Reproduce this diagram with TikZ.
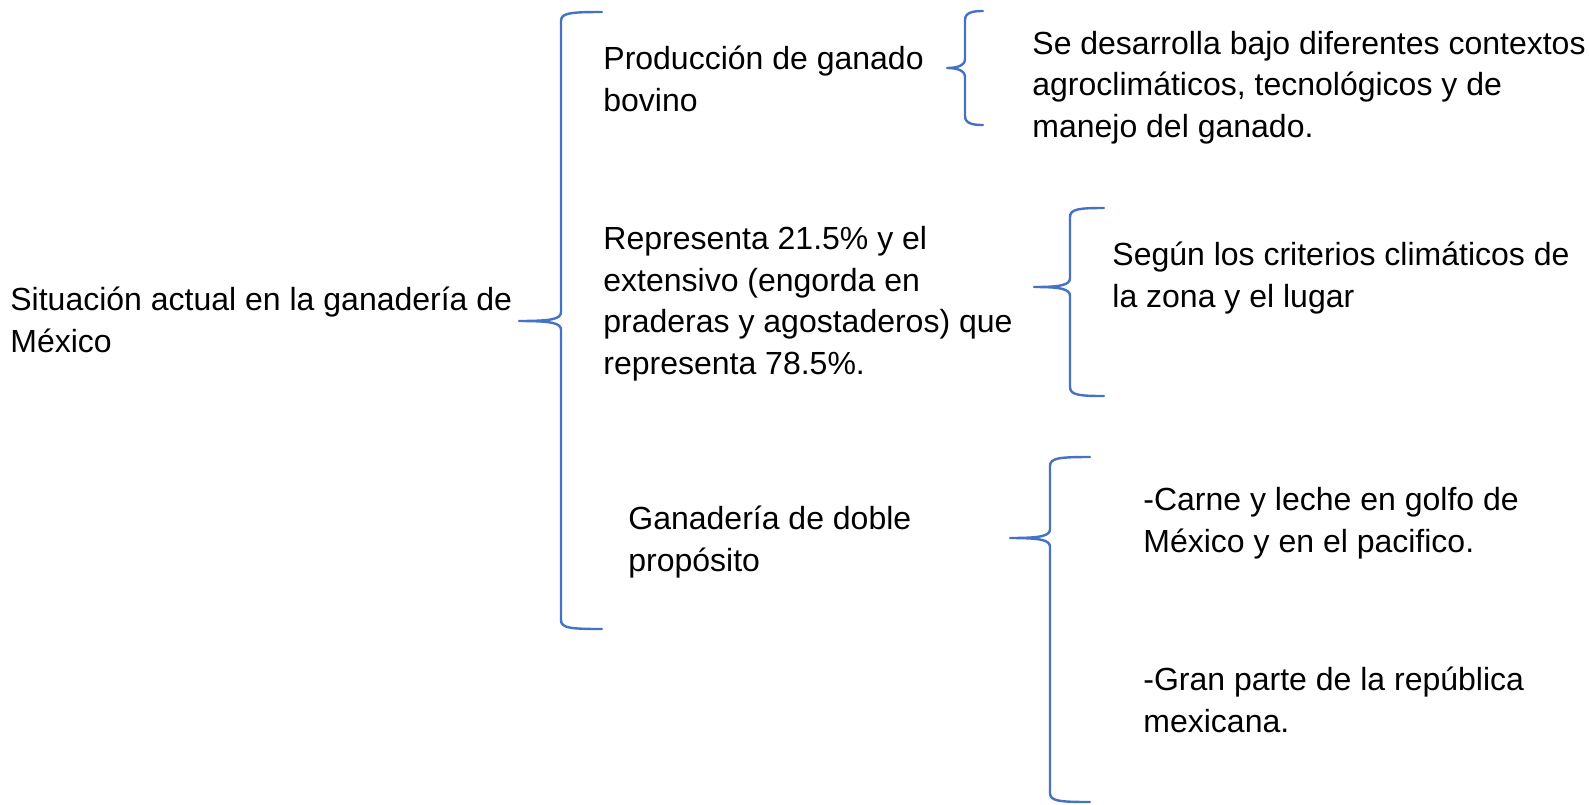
\documentclass[tikz,border=0pt]{standalone}
\usepackage{fontspec}
\setmainfont{Liberation Sans}
\definecolor{azulllave}{RGB}{68,114,196}
% llave: x vertical, y arriba, y punta, y abajo, x punta, x extremos
\newcommand{\llave}[6]{%
  \draw[llave] (#6,#2) .. controls (#1+9,#2) and (#1,#2+1) .. (#1,#2+9)
    -- (#1,#3-9) .. controls (#1,#3-2) and (#1-9,#3) .. (#5,#3)
    .. controls (#1-9,#3) and (#1,#3+2) .. (#1,#3+9)
    -- (#1,#4-9) .. controls (#1,#4-1) and (#1+9,#4) .. (#6,#4);}
\tikzset{
  texto/.style={anchor=base west, align=left, inner sep=0pt,
    font=\fontsize{16}{20.75}\selectfont},
  llave/.style={draw=azulllave, line width=1.2pt, line cap=round, line join=round}
}
\begin{document}
\begin{tikzpicture}[x=0.5pt, y=-0.5pt]
\useasboundingbox (0,0) rectangle (1589,804);
% textos (base = ultima linea)
\node[texto] (raiz) at (10,352) {Situación actual en la ganadería de\\México};
\node[texto] (bovino) at (603,111) {Producción de ganado\\bovino};
\node[texto] (contextos) at (1032,137) {Se desarrolla bajo diferentes contextos\\agroclimáticos, tecnológicos y de\\manejo del ganado.};
\node[texto] (extensivo) at (603,374) {Representa 21.5\% y el\\extensivo (engorda en\\praderas y agostaderos) que\\representa 78.5\%.};
\node[texto] (criterios) at (1112,307) {Según los criterios climáticos de\\la zona y el lugar};
\node[texto] (doble) at (628,571) {Ganadería de doble\\propósito};
\node[texto] (carne) at (1143,552) {-Carne y leche en golfo de\\México y en el pacifico.};
\node[texto] (republica) at (1143,732) {-Gran parte de la república\\mexicana.};
% llaves
\llave{561}{12}{321}{629}{519}{602}
\llave{965}{11}{68}{125}{947}{983}
\llave{1070}{208}{287}{396}{1034}{1104}
\llave{1050}{457}{538}{802}{1010}{1090}
\end{tikzpicture}
\end{document}
